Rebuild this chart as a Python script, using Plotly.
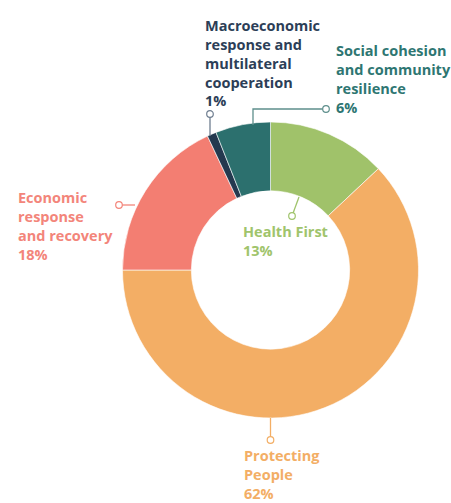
import plotly.graph_objects as go

# Budget share by pillar
labels = ["Health First", "Protecting People", "Economic response and recovery",
          "Macroeconomic response and multilateral cooperation",
          "Social cohesion and community resilience"]
values = [13, 62, 18, 1, 6]
slice_colors = ["#A0C26A", "#F3AE65", "#F37E72", "#24394F", "#2C706E"]
text_colors = ["#A0C46C", "#F3AE65", "#F3857A", "#2C3E57", "#2E7672"]
label_text = ["Health First", "Protecting<br>People", "Economic<br>response<br>and recovery",
              "Macroeconomic<br>response and<br>multilateral<br>cooperation",
              "Social cohesion<br>and community<br>resilience"]

W, H = 451, 503
CX, CY, R = 270.5, 270, 148


def px(x):
    return x / W


def py(y):
    return 1 - y / H


fig = go.Figure(go.Pie(
    labels=labels,
    values=values,
    hole=0.535,
    sort=False,
    direction="clockwise",
    rotation=0,
    marker=dict(colors=slice_colors, line=dict(color="#FFFFFF", width=0.6)),
    textinfo="none",
    hoverinfo="label+percent",
    showlegend=False,
    domain=dict(x=[px(CX - R), px(CX + R)], y=[py(CY + R), py(CY - R)]),
))

font_family = "'Open Sans', Lato, sans-serif"
FS = 14.5

# label blocks: (left x, top y) in pixels
label_pos = [(241, 220), (242, 444), (16, 186), (203, 14), (334, 39)]
annotations = []
for i, (lx, ly) in enumerate(label_pos):
    annotations.append(dict(
        x=px(lx), y=py(ly), xref="paper", yref="paper",
        xanchor="left", yanchor="top", align="left", showarrow=False,
        text=f"<b>{label_text[i]}<br>{values[i]}%</b>",
        font=dict(family=font_family, size=FS, color=text_colors[i]),
    ))

# leader lines (pixel polylines) ending in a small open circle
leaders = [
    ([(299, 197), (292, 216)], "#A0C46C"),
    ([(270.5, 418), (270.5, 440)], "#F3AE65"),
    ([(135, 205), (119, 205)], "#F3857A"),
    ([(210, 136), (210, 114)], "#6F7E90"),
    ([(253, 125), (253, 109), (326, 109)], "#5E8F8C"),
]
shapes = []
for pts, col in leaders:
    path = "M " + " L ".join(f"{px(x)},{py(y)}" for x, y in pts)
    shapes.append(dict(type="path", path=path, xref="paper", yref="paper",
                       line=dict(color=col, width=1.3)))
    ex, ey = pts[-1]
    rr = 3.3
    shapes.append(dict(type="circle", xref="paper", yref="paper",
                       x0=px(ex - rr), x1=px(ex + rr), y0=py(ey + rr), y1=py(ey - rr),
                       line=dict(color=col, width=1.2), fillcolor="#FFFFFF"))

fig.update_layout(
    width=W, height=H,
    margin=dict(l=0, r=0, t=0, b=0),
    paper_bgcolor="#FFFFFF",
    plot_bgcolor="#FFFFFF",
    annotations=annotations,
    shapes=shapes,
)

fig.write_html("out.html")
